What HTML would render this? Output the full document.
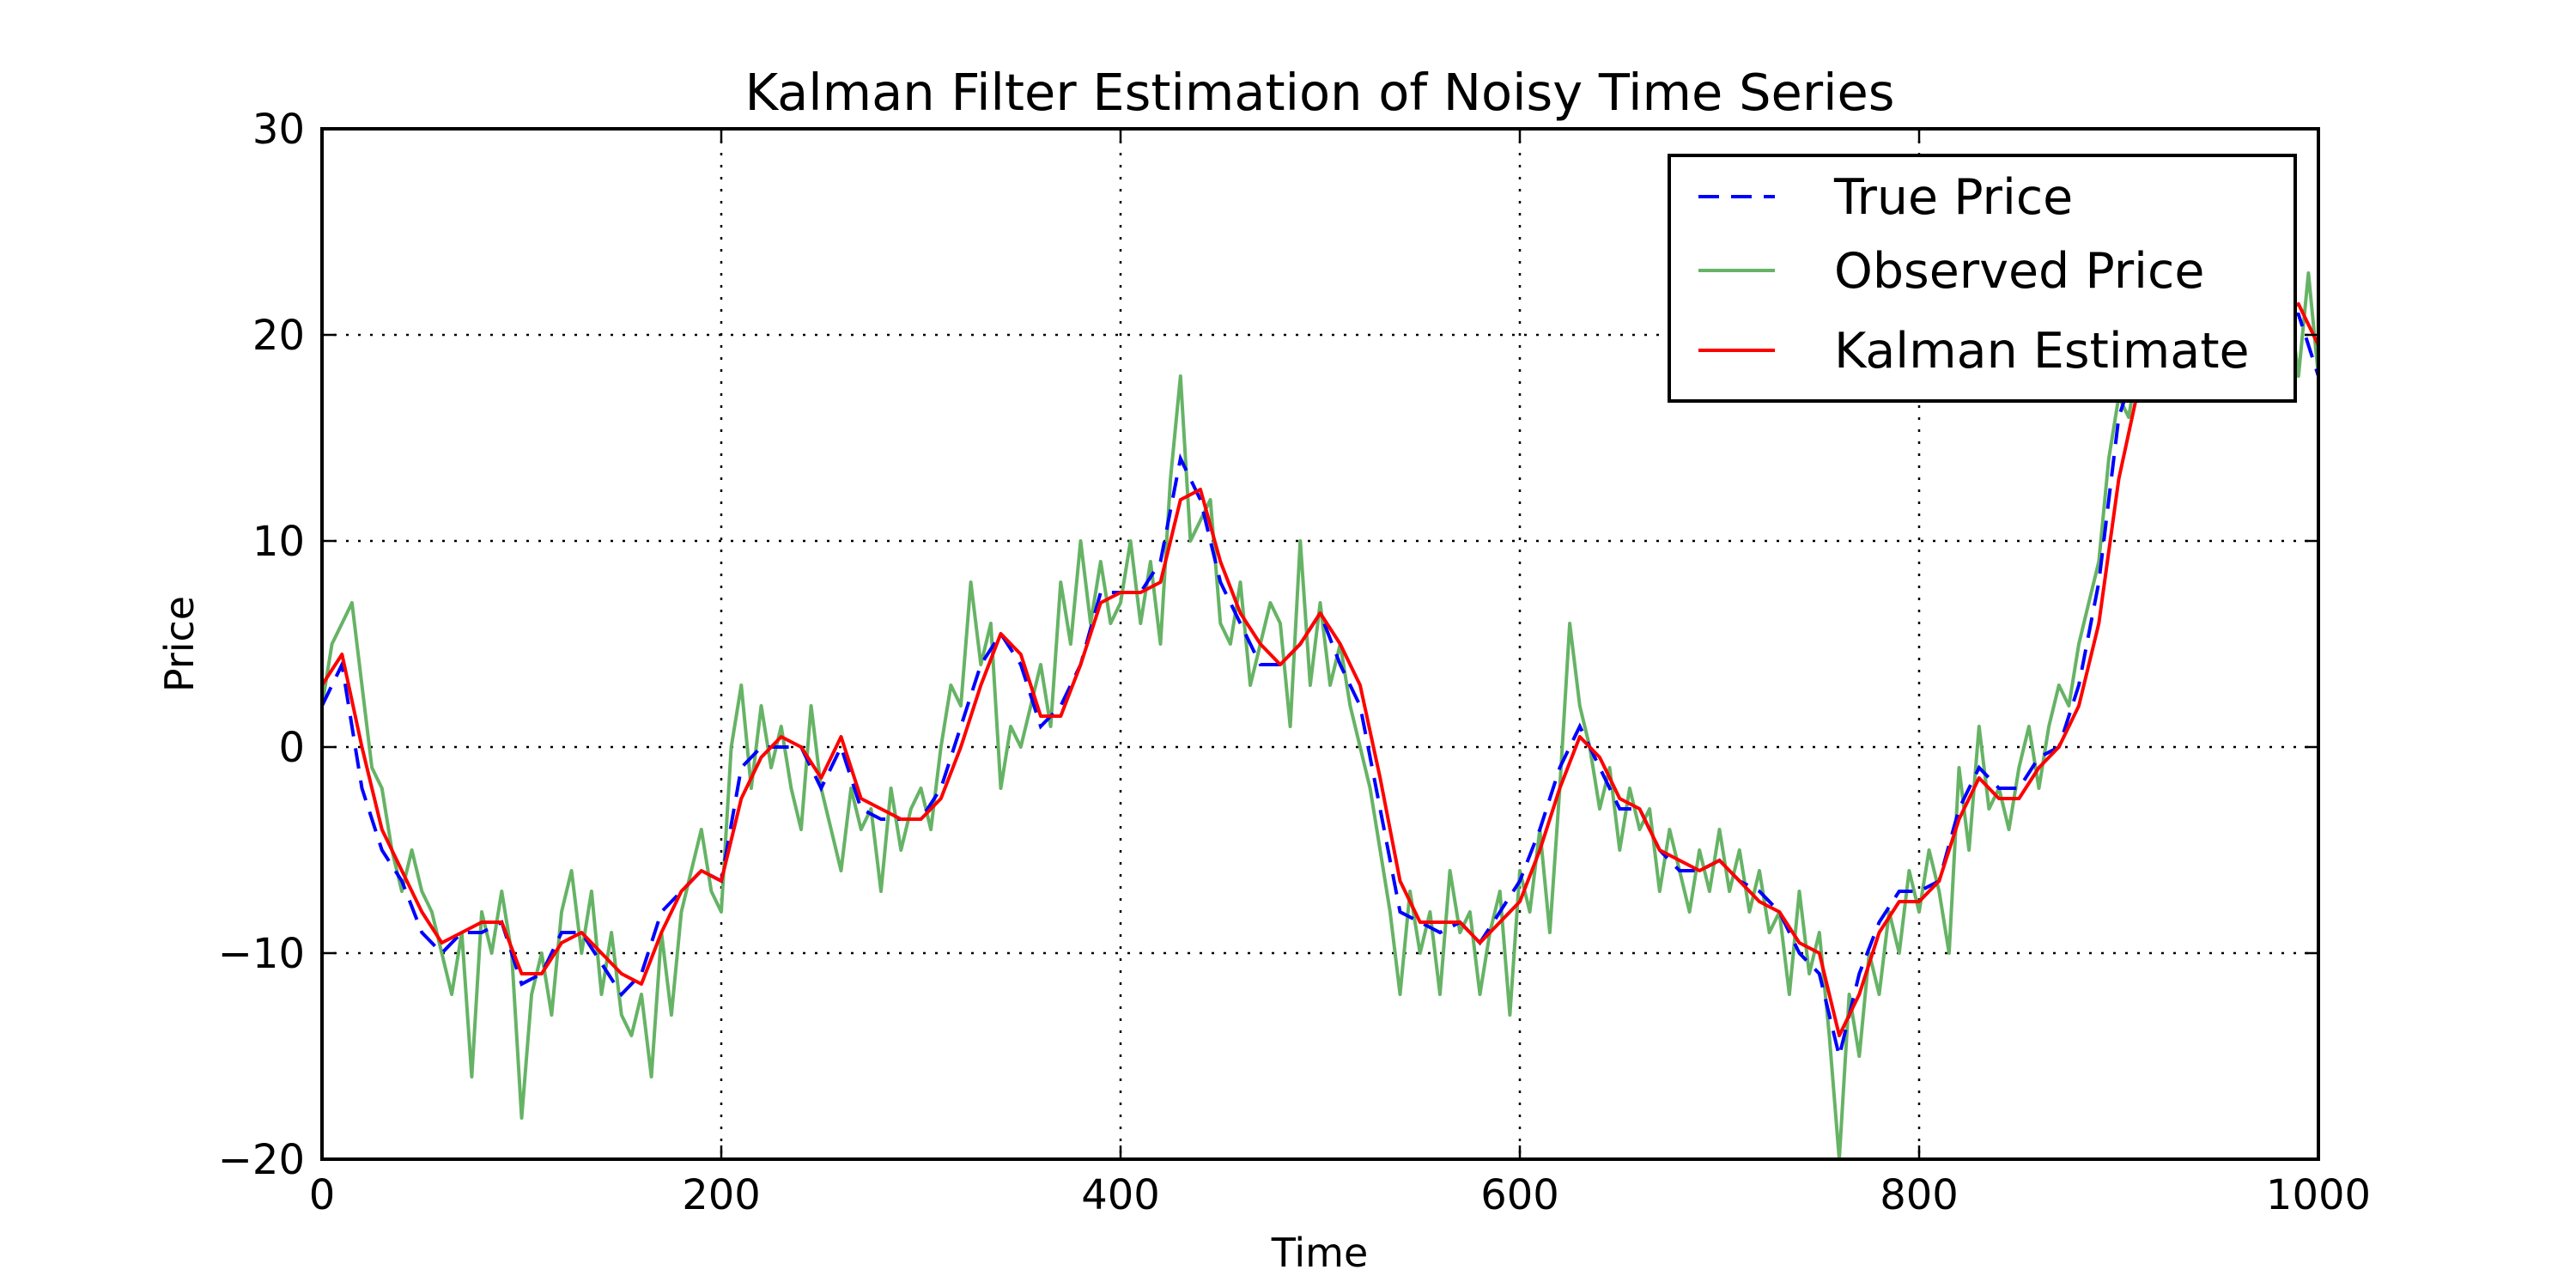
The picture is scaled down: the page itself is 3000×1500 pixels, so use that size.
<!DOCTYPE html>
<html><head><meta charset="utf-8"><style>
html,body{margin:0;padding:0;background:#fff;}
svg{display:block;font-family:"DejaVu Sans","Liberation Sans",sans-serif;}
</style></head><body>
<svg id="chart" width="3000" height="1500" viewBox="0 0 3000 1500" xmlns="http://www.w3.org/2000/svg">
<rect width="3000" height="1500" fill="#fff"/>
<g id="grid"></g>
<g id="series" clip-path="url(#clip)"></g>
<defs><clipPath id="clip"><rect x="375" y="150" width="2325" height="1200"/></clipPath></defs>
<rect x="375" y="150" width="2325" height="1200" fill="none" stroke="#000" stroke-width="4"/>
<g id="ticks"></g>
<text x="1537" y="128" font-size="59" text-anchor="middle">Kalman Filter Estimation of Noisy Time Series</text>
<text x="1537" y="1475" font-size="46" text-anchor="middle">Time</text>
<text x="225" y="750" font-size="46" text-anchor="middle" transform="rotate(-90 225 750)">Price</text>
<g>
<rect x="1944" y="181" width="729" height="286" fill="#fff" stroke="#000" stroke-width="4"/>
<line x1="1978" y1="229" x2="2067" y2="229" stroke="#0000ff" stroke-width="4" stroke-dasharray="24,14"/>
<text x="2136" y="249" font-size="57">True Price</text>
<line x1="1978" y1="315" x2="2067" y2="315" stroke="rgb(102,179,102)" stroke-width="4"/>
<text x="2136" y="335" font-size="57">Observed Price</text>
<line x1="1978" y1="408" x2="2067" y2="408" stroke="#ff0000" stroke-width="4"/>
<text x="2136" y="428" font-size="57">Kalman Estimate</text>
</g>
</svg>
<script>
const xTicks=[0,200,400,600,800,1000];
const yTicks=[-20,-10,0,10,20,30];
const yTickLabels=["\u221220","\u221210","0","10","20","30"];
const trueStep=10;
const truePrice=[2,4,-2,-5,-6.5,-9,-10,-9,-9,-8.5,-11.5,-11,-9,-9,-10.5,-12,-11,-8,-7,-6,-6.5,-1,0,0,0,-2,0,-3,-3.5,-3.5,-3.5,-2,1,4,5.5,4,1,2,4,7.5,7.5,7.5,9,14,12,8,6,4,4,5,6.5,4,2,-3,-8,-8.5,-9,-8.5,-9.5,-8,-6.5,-4,-1,1,-1,-3,-3,-5,-6,-6,-5.5,-6.5,-7,-8,-10,-11,-15,-11,-8.5,-7,-7,-6.5,-3,-1,-2,-2,-0.5,0,3,8,16,19,20,20,20,20,20,20,21,21,18];
const obsStep=5;
const observedPrice=[2,5,6,7,3,-1,-2,-5,-7,-5,-7,-8,-10,-12,-9,-16,-8,-10,-7,-10,
-18,-12,-10,-13,-8,-6,-10,-7,-12,-9,-13,-14,-12,-16,-9,-13,-8,-6,-4,-7,
-8,0,3,-2,2,-1,1,-2,-4,2,-2,-4,-6,-2,-4,-3,-7,-2,-5,-3,
-2,-4,0,3,2,8,4,6,-2,1,0,2,4,1,8,5,10,6,9,6,
7,10,6,9,5,13,18,10,11,12,6,5,8,3,5,7,6,1,10,3,
7,3,5,2,0,-2,-5,-8,-12,-7,-10,-8,-12,-6,-9,-8,-12,-9,-7,-13,
-6,-8,-4,-9,-2,6,2,0,-3,-1,-5,-2,-4,-3,-7,-4,-6,-8,-5,-7,
-4,-7,-5,-8,-6,-9,-8,-12,-7,-11,-9,-14,-20,-12,-15,-10,-12,-8,-10,-6,
-8,-5,-7,-10,-1,-5,1,-3,-2,-4,-1,1,-2,1,3,2,5,7,9,14,
17,16,19,20,21,18,22,20,18,21,20,17,22,21,19,22,20,22,18,23,18];
const kalmanStep=10;
const kalmanEstimate=[3,4.5,0,-4,-6,-8,-9.5,-9,-8.5,-8.5,-11,-11,-9.5,-9,-10,-11,-11.5,-9,-7,-6,-6.5,-2.5,-0.5,0.5,0,-1.5,0.5,-2.5,-3,-3.5,-3.5,-2.5,0,3,5.5,4.5,1.5,1.5,4,7,7.5,7.5,8,12,12.5,9,6.5,5,4,5,6.5,5,3,-1.5,-6.5,-8.5,-8.5,-8.5,-9.5,-8.5,-7.5,-5,-2,0.5,-0.5,-2.5,-3,-5,-5.5,-6,-5.5,-6.5,-7.5,-8,-9.5,-10,-14,-12,-9,-7.5,-7.5,-6.5,-3.5,-1.5,-2.5,-2.5,-1,0,2,6,13,17.5,19.5,20,20,20,20,20,21,21.5,19.5];

const X0=375,X1=2700,Y0=1350,Y1=150;
function xs(v){return X0+(v-0)/(1000-0)*(X1-X0);}
function ys(v){return Y0-(v-(-20))/(30-(-20))*(Y0-Y1);}
const NS="http://www.w3.org/2000/svg";
function mk(tag,attrs,parent){const e=document.createElementNS(NS,tag);for(const k in attrs)e.setAttribute(k,attrs[k]);parent.appendChild(e);return e;}
const grid=document.getElementById('grid'),ticks=document.getElementById('ticks'),series=document.getElementById('series');
xTicks.forEach(t=>{
  const x=xs(t);
  if(t>0&&t<1000){const g=mk('line',{x1:x,y1:Y1,x2:x,y2:Y0,stroke:'#000','stroke-width':2.5,'stroke-dasharray':'3,11'},grid);
  
  }
  const a=mk('line',{x1:x,y1:Y0,x2:x,y2:Y0-16,stroke:'#000','stroke-width':2.5},ticks);
  
  
  const b=mk('line',{x1:x,y1:Y1,x2:x,y2:Y1+16,stroke:'#000','stroke-width':2.5},ticks);
  
  
  const l=mk('text',{x:x,y:1408,'font-size':48,'text-anchor':'middle'},ticks);
  l.textContent=String(t);
  
  
});
yTicks.forEach((t,i)=>{
  const y=ys(t);
  if(t>-20&&t<30){const g=mk('line',{x1:X0,y1:y,x2:X1,y2:y,stroke:'#000','stroke-width':2.5,'stroke-dasharray':'3,11'},grid);
  
  }
  const a=mk('line',{x1:X0,y1:y,x2:X0+16,y2:y,stroke:'#000','stroke-width':2.5},ticks);
  
  
  const b=mk('line',{x1:X1,y1:y,x2:X1-16,y2:y,stroke:'#000','stroke-width':2.5},ticks);
  
  
  const l=mk('text',{x:355,y:y+17,'font-size':48,'text-anchor':'end'},ticks);
  l.textContent=yTickLabels[i];
  
  
});
function pts(arr,step){return arr.map((v,i)=>xs(i*step).toFixed(1)+','+ys(v).toFixed(1)).join(' ');}
const pObs=mk('polyline',{points:pts(observedPrice,obsStep),fill:'none',stroke:'rgb(102,179,102)','stroke-width':4,'stroke-linejoin':'round'},series);


const pTrue=mk('polyline',{points:pts(truePrice,trueStep),fill:'none',stroke:'#0000ff','stroke-width':4,'stroke-dasharray':'24,14'},series);


const pK=mk('polyline',{points:pts(kalmanEstimate,kalmanStep),fill:'none',stroke:'#ff0000','stroke-width':4,'stroke-linejoin':'round'},series);


</script>
</body></html>
